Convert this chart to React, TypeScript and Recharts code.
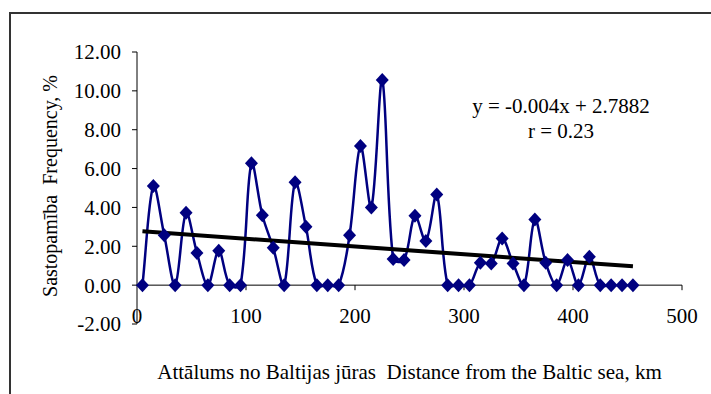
import React from "react";
import {
  LineChart,
  Line,
  XAxis,
  YAxis,
  ReferenceLine,
} from "recharts";

// distance from the Baltic sea, km (class midpoints)
const distances = [
  5, 15, 25, 35, 45, 55, 65, 75, 85, 95,
  105, 115, 125, 135, 145, 155, 165, 175, 185, 195,
  205, 215, 225, 235, 245, 255, 265, 275, 285, 295,
  305, 315, 325, 335, 345, 355, 365, 375, 385, 395,
  405, 415, 425, 435, 445, 455,
];

// frequency, %
const frequency = [
  0, 5.1, 2.57, 0, 3.72, 1.66, 0, 1.77, 0, 0,
  6.27, 3.6, 1.92, 0, 5.29, 3.0, 0, 0, 0, 2.57,
  7.16, 4.0, 10.56, 1.34, 1.29, 3.57, 2.27, 4.67, 0, 0,
  0, 1.15, 1.12, 2.4, 1.12, 0, 3.38, 1.15, 0, 1.29,
  0, 1.46, 0, 0, 0, 0,
];

const xTicks = [0, 100, 200, 300, 400, 500];
const yTicks = [-2, 0, 2, 4, 6, 8, 10, 12];

// trend line from the chart: y = -0.004x + 2.7882
const slope = -0.004;
const intercept = 2.7882;
const rValue = "0.23";

const points = distances.map((x, i) => ({ x, y: frequency[i] }));
const trendStart = { x: distances[0], y: slope * distances[0] + intercept };
const trendEnd = {
  x: distances[distances.length - 1],
  y: slope * distances[distances.length - 1] + intercept,
};

const FONT = "Liberation Serif";
const NAVY = "#000080";

// Excel-like smoothed line: tangents scaled by neighbouring segment lengths
const excelSmooth = (context: any) => {
  let pts: [number, number][] = [];
  const dist = (a: [number, number], b: [number, number]) =>
    Math.hypot(b[0] - a[0], b[1] - a[1]) || 1e-6;
  return {
    areaStart() {},
    areaEnd() {},
    lineStart() {
      pts = [];
    },
    point(x: number, y: number) {
      pts.push([+x, +y]);
    },
    lineEnd() {
      const n = pts.length;
      if (!n) return;
      context.moveTo(pts[0][0], pts[0][1]);
      for (let i = 0; i < n - 1; i++) {
        const p0 = pts[Math.max(0, i - 1)];
        const p1 = pts[i];
        const p2 = pts[i + 1];
        const p3 = pts[Math.min(n - 1, i + 2)];
        const d01 = dist(p0, p1);
        const d12 = dist(p1, p2);
        const d23 = dist(p2, p3);
        const w1 = d12 / (d01 + d12) / 3;
        const w2 = d12 / (d12 + d23) / 3;
        context.bezierCurveTo(
          p1[0] + (p2[0] - p0[0]) * w1,
          p1[1] + (p2[1] - p0[1]) * w1,
          p2[0] - (p3[0] - p1[0]) * w2,
          p2[1] - (p3[1] - p1[1]) * w2,
          p2[0],
          p2[1]
        );
      }
    },
  };
};

const Diamond = (props: any) => {
  const { cx, cy, index } = props;
  if (cx == null || cy == null) return <g key={index} />;
  return (
    <polygon
      key={index}
      points={`${cx},${cy - 7} ${cx + 6.5},${cy} ${cx},${cy + 7} ${cx - 6.5},${cy}`}
      fill={NAVY}
    />
  );
};

const XTick = (props: any) => (
  <text
    x={props.x}
    y={props.y - 1}
    textAnchor="middle"
    fontSize={21}
    fontFamily={FONT}
    fill="#000"
  >
    {props.payload.value}
  </text>
);

export default function App() {
  return (
    <div
      style={{
        position: "absolute",
        left: 0,
        top: 0,
        width: 711,
        height: 394,
        overflow: "hidden",
        background: "#fff",
        fontFamily: FONT,
      }}
    >
      <div
        style={{
          position: "absolute",
          left: 9,
          top: 12,
          width: 720,
          height: 400,
          borderTop: "2px solid #333",
          borderLeft: "2px solid #333",
        }}
      />
      <LineChart
        width={711}
        height={394}
        data={points}
        margin={{ top: 52, right: 29, left: 0, bottom: 0 }}
        style={{ position: "absolute", left: 0, top: 0, fontFamily: FONT }}
      >
        <XAxis
          dataKey="x"
          type="number"
          domain={[0, 500]}
          ticks={xTicks}
          height={70}
          axisLine={false}
          tickLine={false}
          tickSize={0}
          tickMargin={0}
          tick={<XTick />}
          label={{
            content: (p: any) => {
              const vb = p.viewBox;
              return (
                <text
                  x={vb.x + vb.width / 2}
                  y={vb.y + 48}
                  textAnchor="middle"
                  dominantBaseline="central"
                  fontSize={21}
                  fontFamily={FONT}
                  fill="#000"
                  style={{ whiteSpace: "pre" }}
                >
                  Attālums no Baltijas jūras  Distance from the Baltic sea, km
                </text>
              );
            },
          }}
        />
        <YAxis
          type="number"
          domain={[-2, 12]}
          ticks={yTicks}
          width={137}
          tickSize={5}
          tickMargin={11}
          axisLine={{ stroke: "#000" }}
          tickLine={{ stroke: "#000" }}
          tick={{ fontSize: 21, fontFamily: FONT, fill: "#000" }}
          tickFormatter={(v: number) => v.toFixed(2)}
          label={{
            content: (p: any) => {
              const vb = p.viewBox;
              const cx = vb.x + 50;
              const cy = vb.y + vb.height / 2 - 2;
              return (
                <text
                  x={cx}
                  y={cy}
                  textAnchor="middle"
                  dominantBaseline="central"
                  transform={`rotate(-90, ${cx}, ${cy})`}
                  fontSize={20}
                  fontFamily={FONT}
                  fill="#000"
                  style={{ whiteSpace: "pre" }}
                >
                  Sastopamība  Frequency, %
                </text>
              );
            },
          }}
        />
        <ReferenceLine y={0} stroke="#000" strokeWidth={1} />
        {xTicks.slice(1).map((t) => (
          <ReferenceLine
            key={t}
            segment={[
              { x: t, y: 0 },
              { x: t, y: -0.26 },
            ]}
            stroke="#000"
            strokeWidth={1}
          />
        ))}
        <Line
          dataKey="y"
          type={excelSmooth as any}
          stroke={NAVY}
          strokeWidth={2.5}
          dot={<Diamond />}
          isAnimationActive={false}
        />
        <ReferenceLine
          segment={[trendStart, trendEnd]}
          stroke="#000"
          strokeWidth={4}
        />
      </LineChart>
      <div
        style={{
          position: "absolute",
          left: 561,
          top: 94,
          transform: "translateX(-50%)",
          textAlign: "center",
          fontSize: 21,
          lineHeight: "25px",
          whiteSpace: "nowrap",
          color: "#000",
        }}
      >
        <div>y = {slope}x + {intercept}</div>
        <div>r = {rValue}</div>
      </div>
    </div>
  );
}
